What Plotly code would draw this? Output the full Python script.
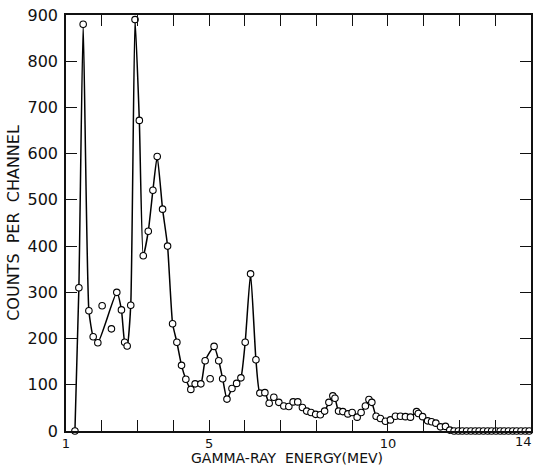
import plotly.graph_objects as go

# Points lying on the drawn curve (MeV, counts per channel)
energy_curve = [1.25, 1.36, 1.48, 1.64, 1.76, 1.89, 2.42, 2.55, 2.64, 2.71, 2.81, 2.93,
                3.05, 3.16, 3.30, 3.43, 3.55, 3.70, 3.84, 3.98, 4.10, 4.23, 4.35, 4.49,
                4.61, 4.77, 4.89, 5.14, 5.27, 5.38, 5.50, 5.64, 5.77, 5.89, 6.01, 6.16,
                6.31, 6.42, 6.56, 6.68, 6.81, 6.95, 7.09, 7.23, 7.35, 7.48, 7.61, 7.73,
                7.85, 7.98, 8.11, 8.23, 8.35, 8.46, 8.52, 8.62, 8.74, 8.88, 9.00, 9.14,
                9.25, 9.37, 9.47, 9.55, 9.67, 9.79, 9.93, 10.07, 10.21, 10.35, 10.49,
                10.63, 10.80, 10.85, 10.97, 11.11, 11.22, 11.34, 11.47, 11.61, 11.73]
counts_curve = [0, 310, 880, 260, 204, 191, 300, 262, 192, 184, 272, 890,
                672, 379, 432, 521, 594, 480, 400, 232, 192, 142, 112, 90,
                102, 102, 152, 183, 152, 113, 69, 92, 103, 115, 192, 340,
                154, 82, 83, 60, 73, 62, 54, 53, 63, 63, 51, 43,
                40, 36, 35, 43, 62, 76, 71, 43, 42, 37, 40, 30,
                40, 54, 68, 62, 32, 27, 21, 24, 32, 32, 31,
                30, 42, 38, 31, 22, 20, 17, 9, 10, 2]

# Points off the curve
energy_off = [2.01, 2.27, 5.03]
counts_off = [271, 221, 113]

# Tail points at zero
energy_zero = [11.85, 11.97, 12.08, 12.20, 12.32, 12.44, 12.55, 12.67, 12.79, 12.90,
               13.02, 13.14, 13.25, 13.37, 13.49, 13.60, 13.72, 13.84, 13.95]
counts_zero = [0] * len(energy_zero)

x_tickvals = [1, 2, 3, 4, 5, 6, 7, 8, 9, 10, 11, 12, 13, 14]
x_ticktext = ["1", "", "", "", "5", "", "", "", "", "10", "", "", "", ""]
x_last_label = "14"
y_tickvals = [0, 100, 200, 300, 400, 500, 600, 700, 800, 900]
x_title = "GAMMA-RAY  ENERGY(MEV)"
y_title = "COUNTS  PER  CHANNEL"

marker_style = dict(symbol="circle", size=6.5, color="white", line=dict(color="black", width=1.1))

fig = go.Figure()
fig.add_trace(go.Scatter(x=energy_curve, y=counts_curve, mode="lines",
                         line=dict(color="black", width=1.5, shape="spline", smoothing=0.5),
                         cliponaxis=False, hoverinfo="skip"))
fig.add_trace(go.Scatter(x=energy_curve, y=counts_curve, mode="markers",
                         marker=marker_style, cliponaxis=False))
fig.add_trace(go.Scatter(x=energy_off, y=counts_off, mode="markers",
                         marker=marker_style, cliponaxis=False))
fig.add_trace(go.Scatter(x=energy_zero, y=counts_zero, mode="markers",
                         marker=marker_style, cliponaxis=False))

font_family = "DejaVu Sans, Liberation Sans, sans-serif"
fig.update_layout(
    width=534, height=466,
    margin=dict(l=66, r=3, t=15, b=35, autoexpand=False),
    paper_bgcolor="white", plot_bgcolor="white",
    showlegend=False,
    font=dict(family=font_family, color="#111", size=14),
    xaxis=dict(range=[1, 14], tickvals=x_tickvals, ticktext=x_ticktext,
               ticks="inside", ticklen=11, tickwidth=1.3, tickcolor="#111",
               showline=True, linecolor="#111", linewidth=1.5, mirror="ticks",
               showgrid=False, zeroline=False,
               automargin=False, tickfont=dict(size=13)),
    yaxis=dict(range=[0, 900], tickvals=y_tickvals,
               ticks="inside", ticklen=11, tickwidth=1.3, tickcolor="#111",
               showline=True, linecolor="#111", linewidth=1.5, mirror="ticks",
               showgrid=False, zeroline=False, automargin=False,
               tickfont=dict(size=16), ticklabelstandoff=3,
               title=dict(text=y_title, standoff=4, font=dict(size=16))),
    annotations=[
        dict(text=x_title, xref="paper", yref="paper",
             x=0.475, y=-0.065, xanchor="center", yanchor="middle",
             showarrow=False, font=dict(size=14)),
        dict(text=x_last_label, xref="x", yref="paper",
             x=14, y=0, xanchor="right", yanchor="top", xshift=3, yshift=-1,
             showarrow=False, font=dict(size=13)),
    ],
)

fig.write_html("out.html")
